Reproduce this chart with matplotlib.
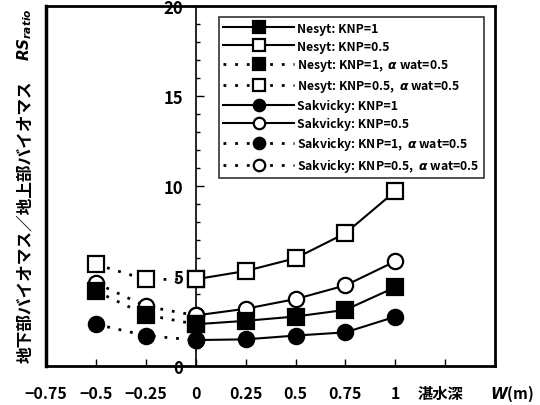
import matplotlib
matplotlib.use("Agg")
import matplotlib.pyplot as plt
from matplotlib.lines import Line2D

plt.rcParams['font.family'] = ['Noto Sans CJK JP', 'DejaVu Sans']
plt.rcParams['font.weight'] = 'bold'

# data
w_pos = [0, 0.25, 0.5, 0.75, 1]
w_neg = [-0.5, -0.25, 0]
nesyt_knp1 = [2.30, 2.49, 2.73, 3.10, 4.36]
nesyt_knp05 = [4.80, 5.26, 5.97, 7.36, 9.70]
sak_knp1 = [1.42, 1.46, 1.67, 1.85, 2.72]
sak_knp05 = [2.79, 3.16, 3.70, 4.46, 5.80]
nesyt_knp1_aw = [4.14, 2.83, 2.30]
nesyt_knp05_aw = [5.63, 4.79, 4.80]
sak_knp1_aw = [2.30, 1.67, 1.42]
sak_knp05_aw = [4.60, 3.30, 2.79]

xticks = [-0.75, -0.5, -0.25, 0, 0.25, 0.5, 0.75, 1, 1.25, 1.5]
xticklabels = ['−0.75', '−0.5', '−0.25', '0', '0.25', '0.5', '0.75', '1', '', '']
yticks = [0, 5, 10, 15, 20]

fig = plt.figure(figsize=(5.4, 4.06), dpi=100)
ax = fig.add_axes([0.085, 0.097, 0.832, 0.886])

dot = (0, (1, 3.2))
ms = 11

series = [
    (w_pos, nesyt_knp1, 's', 'black', '-', 'Nesyt: KNP=1', 5),
    (w_pos, nesyt_knp05, 's', 'white', '-', 'Nesyt: KNP=0.5', 3),
    (w_neg, nesyt_knp1_aw, 's', 'black', dot, r'Nesyt: KNP=1,  $\alpha$ wat=0.5', 5),
    (w_neg, nesyt_knp05_aw, 's', 'white', dot, r'Nesyt: KNP=0.5,  $\alpha$ wat=0.5', 3),
    (w_pos, sak_knp1, 'o', 'black', '-', 'Sakvicky: KNP=1', 4),
    (w_pos, sak_knp05, 'o', 'white', '-', 'Sakvicky: KNP=0.5', 3),
    (w_neg, sak_knp1_aw, 'o', 'black', dot, r'Sakvicky: KNP=1,  $\alpha$ wat=0.5', 4),
    (w_neg, sak_knp05_aw, 'o', 'white', dot, r'Sakvicky: KNP=0.5,  $\alpha$ wat=0.5', 3),
]
handles = []
for x, y, m, fc, ls, lab, z in series:
    lw = 1.5 if ls == '-' else 2.0
    h, = ax.plot(x, y, marker=m, markerfacecolor=fc, linestyle=ls, label=lab,
                 markersize=ms, color='black', lw=lw, markeredgewidth=1.6,
                 markeredgecolor='black', zorder=z)
    handles.append(h)

ax.set_xlim(-0.75, 1.5)
ax.set_ylim(0, 20)

for s in ax.spines.values():
    s.set_linewidth(2)
ax.spines['left'].set_position(('data', 0))
ax.spines['left'].set_linewidth(1.2)
ax.add_line(Line2D([0, 0], [0, 1], transform=ax.transAxes, color='black', lw=2.5, clip_on=False))

ax.set_xticks(xticks)
ax.set_xticklabels(xticklabels)
ax.set_yticks(yticks)
ax.set_yticks(range(0, 21), minor=True)
ax.tick_params(axis='x', direction='in', length=5, width=1, labelsize=11.5, pad=14)
ax.tick_params(axis='y', which='major', direction='in', length=6, width=1, labelsize=12, pad=9)
ax.tick_params(axis='y', which='minor', direction='in', length=3, width=1)
for t in ax.get_xticklabels() + ax.get_yticklabels():
    t.set_fontweight('bold')

leg = ax.legend(handles=handles, loc='upper left', bbox_to_anchor=(0.385, 0.968),
                fontsize=8.8, frameon=True, fancybox=False, edgecolor='black',
                handlelength=5.8, handletextpad=0.25, labelspacing=0.4,
                borderpad=0.35, borderaxespad=0, markerscale=0.75)
leg.get_frame().set_linewidth(1.2)
for t in leg.get_texts():
    t.set_fontweight('bold')

# axis labels
xt = ax.get_xaxis_transform()
ax.text(1.224, -0.075, '湛水深', transform=xt, ha='center', va='center',
        fontsize=11, fontweight='bold', clip_on=False)
ax.text(1.585, -0.075, r'$\mathit{W}$(m)', transform=xt, ha='center',
        va='center', fontsize=11, fontweight='bold', clip_on=False)
fig.text(0.046, 0.453, '地下部バイオマス／地上部バイオマス', rotation=90, ha='center',
         va='center', fontsize=12, fontweight='bold')
fig.text(0.046, 0.914, r'$\mathit{RS}_{\mathit{ratio}}$', rotation=90, ha='center',
         va='center', fontsize=11)

fig.savefig('out.png', dpi=100)
